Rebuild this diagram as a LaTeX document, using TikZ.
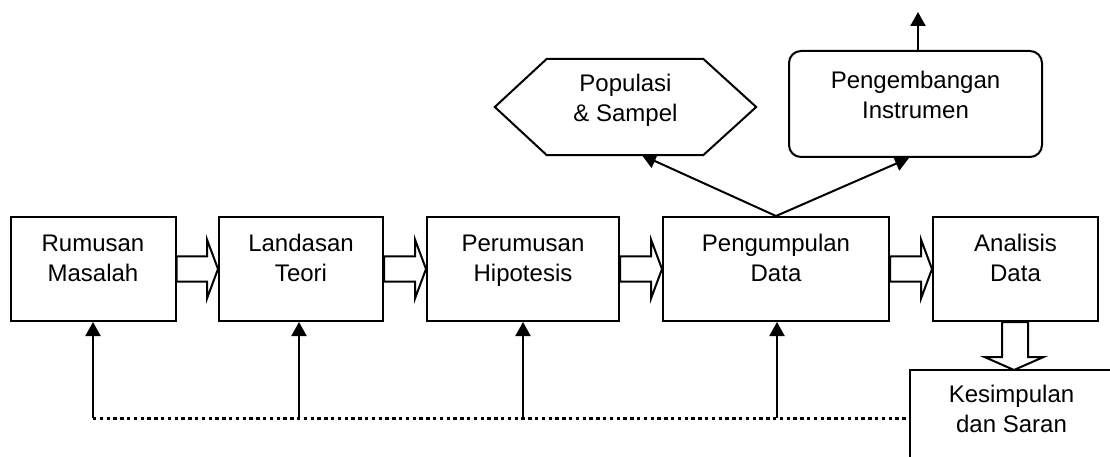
\documentclass[tikz,border=0pt]{standalone}
\usepackage{fontspec}
\setmainfont{Liberation Sans}
\usetikzlibrary{arrows.meta,calc}
\newcommand{\tl}[1]{\parbox[t]{180pt}{\centering #1}}
\newcommand{\fatr}[2]{%
  \draw[fat] ([yshift=12.7pt]#1.east) -- ([xshift=-11pt,yshift=12.7pt]#2.west)
    -- ([xshift=-11pt,yshift=29.5pt]#2.west) -- (#2.west)
    -- ([xshift=-11pt,yshift=-29.5pt]#2.west) -- ([xshift=-11pt,yshift=-12.7pt]#2.west)
    -- ([yshift=-12.7pt]#1.east) -- cycle;}
\begin{document}
\begin{tikzpicture}[x=1pt,y=-1pt,
  box/.style={draw, line width=2pt, inner sep=0pt, minimum width=#1, minimum height=104pt},
  txt/.style={anchor=base, inner sep=0pt, font=\fontsize{24}{30}\selectfont},
  fat/.style={draw, fill=white, line width=2pt, line join=miter},
  arr/.style={line width=2pt, -{Triangle[width=15pt,length=14pt]}},
  dotline/.style={line width=3pt, dash pattern=on 3.4pt off 3.4pt}]
\useasboundingbox (0,0) rectangle (1110,457);
% main boxes
\node[box=165pt] (rm) at (93,269) {};
\node[box=164pt] (lt) at (301,269) {};
\node[box=192pt] (ph) at (523,269) {};
\node[box=226pt] (pd) at (776,269) {};
\node[box=165pt] (ad) at (1015.5,269) {};
\node[txt] (rmt) at (93,251) {\tl{Rumusan\\Masalah}};
\node[txt] (ltt) at (301,251) {\tl{Landasan\\Teori}};
\node[txt] (pht) at (523,251) {\tl{Perumusan\\Hipotesis}};
\node[txt] (pdt) at (776,251) {\tl{Pengumpulan\\Data}};
\node[txt] (adt) at (1015.5,251) {\tl{Analisis\\Data}};
% conclusion box (cut by the page edge)
\begin{scope}
  \clip (0,0) rectangle (1110,457);
  \node[draw, line width=2pt, inner sep=0pt, minimum width=260pt, minimum height=140pt, anchor=north west] (ks) at (909,369) {};
\end{scope}
\node[txt] (kst) at (1011.5,402) {\tl{Kesimpulan\\dan Saran}};
% population hexagon
\node[inner sep=0pt, minimum width=261pt, minimum height=96pt] (pop) at (625.5,107) {};
\draw[line width=2pt, line join=miter] (pop.west) -- ([xshift=52pt]pop.north west) -- ([xshift=-53pt]pop.north east)
  -- (pop.east) -- ([xshift=-53pt]pop.south east) -- ([xshift=52pt]pop.south west) -- cycle;
\node[txt] (popt) at (625.5,92) {\tl{Populasi\\\&~Sampel}};
% instrument box
\node[draw, line width=2pt, rounded corners=12pt, inner sep=0pt, minimum width=253pt, minimum height=106pt] (ins) at (915.5,104) {};
\node[txt] (inst) at (915.5,89) {\tl{Pengembangan\\Instrumen}};
\coordinate (up) at (918,12);
\draw[arr] (ins.north -| up) -- (up);
% arrows to hexagon and instrument box
\draw[arr] (pd.north) -- ([xshift=16.5pt]pop.south);
\draw[arr] (pd.north) -- ([xshift=-6.5pt]ins.south);
% fat arrows
\fatr{rm}{lt}
\fatr{lt}{ph}
\fatr{ph}{pd}
\fatr{pd}{ad}
\draw[fat] ([xshift=-13.5pt]ad.south) -- ([xshift=-13.5pt,yshift=-35pt]ad.south)
  -- ([xshift=-31pt,yshift=-35pt]ad.south) -- ([xshift=-1.5pt,yshift=-48pt]ad.south)
  -- ([xshift=28pt,yshift=-35pt]ad.south) -- ([xshift=12.5pt,yshift=-35pt]ad.south)
  -- ([xshift=12.5pt]ad.south) -- cycle;
% feedback
\coordinate (f1) at (93,418);
\coordinate (f2) at (299,418);
\coordinate (f3) at (523,418);
\coordinate (f4) at (777,418);
\draw[dotline] (f1) -- (f1 -| ks.west);
\draw[arr] (f1) -- (f1 |- rm.south);
\draw[arr] (f2) -- (f2 |- lt.south);
\draw[arr] (f3) -- (f3 |- ph.south);
\draw[arr] (f4) -- (f4 |- pd.south);
\end{tikzpicture}
\end{document}
